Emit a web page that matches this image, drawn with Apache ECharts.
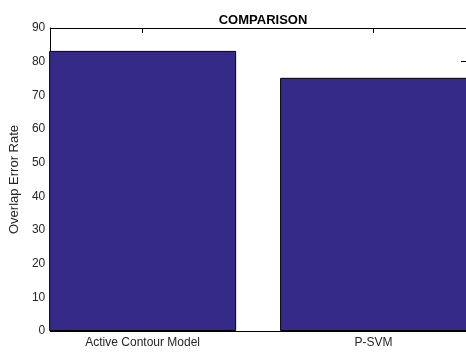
<!DOCTYPE html>
<html>
<head>
<meta charset="utf-8">
<script src="https://cdn.jsdelivr.net/npm/echarts@6/dist/echarts.min.js"></script>
<style>html,body{margin:0;padding:0;background:#fff}#c{width:466px;height:352px}</style>
</head>
<body>
<div id="c"></div>
<script>
const categories = ['Active Contour Model', 'P-SVM'];
const positions = [1, 2];
const values = [83.2, 75.2];
const yTicks = [0, 10, 20, 30, 40, 50, 60, 70, 80, 90];
const titleText = 'COMPARISON';
const yName = 'Overlap Error Rate';

const chart = echarts.init(document.getElementById('c'), null, {renderer: 'canvas'});
const font = 'Liberation Sans, Arial, sans-serif';
const txt = '#262626';
chart.setOption({
  animation: false,
  title: {
    text: titleText, left: 258, top: 9, textAlign: 'center',
    textStyle: {fontFamily: font, fontSize: 13, fontWeight: 'bold', color: '#000'}
  },
  grid: {left: 48, top: 28, right: -3, bottom: 21, containLabel: false},
  xAxis: [{
    type: 'value', min: 0.6, max: 2.4, position: 'bottom',
    splitLine: {show: false},
    axisLine: {show: true, onZero: false, lineStyle: {color: '#000', width: 1}},
    axisTick: {show: true, inside: true, length: 5, customValues: positions, lineStyle: {color: '#000'}},
    axisLabel: {customValues: positions, formatter: v => categories[positions.indexOf(v)] || '',
      fontFamily: font, fontSize: 12, color: txt, margin: 6}
  }, {
    type: 'value', min: 0.6, max: 2.4, position: 'top',
    splitLine: {show: false},
    axisLine: {show: true, onZero: false, lineStyle: {color: '#000', width: 1}},
    axisTick: {show: true, inside: true, length: 5, customValues: positions, lineStyle: {color: '#000'}},
    axisLabel: {show: false}
  }],
  yAxis: [{
    type: 'value', min: 0, max: 90, interval: 10, position: 'left',
    name: yName, nameLocation: 'middle', nameGap: 26,
    nameTextStyle: {fontFamily: font, fontSize: 13, color: txt},
    splitLine: {show: false},
    axisLine: {show: true, lineStyle: {color: '#000', width: 1}},
    axisTick: {show: true, inside: true, length: 5, lineStyle: {color: '#000'}},
    axisLabel: {fontFamily: font, fontSize: 12, color: txt, margin: 5,
      formatter: v => yTicks.includes(v) ? String(v) : ''}
  }, {
    type: 'value', min: 0, max: 90, interval: 10, position: 'right',
    splitLine: {show: false},
    axisLine: {show: true, lineStyle: {color: '#000', width: 1}},
    axisTick: {show: true, inside: true, length: 5, lineStyle: {color: '#000'}},
    axisLabel: {show: false}
  }],
  series: [{
    type: 'bar', xAxisIndex: 0, yAxisIndex: 0,
    data: positions.map((p, i) => [p, values[i]]),
    barWidth: 187,
    itemStyle: {color: '#352a87', borderColor: '#000', borderWidth: 1},
    z: 1
  }]
});
</script>
</body>
</html>
